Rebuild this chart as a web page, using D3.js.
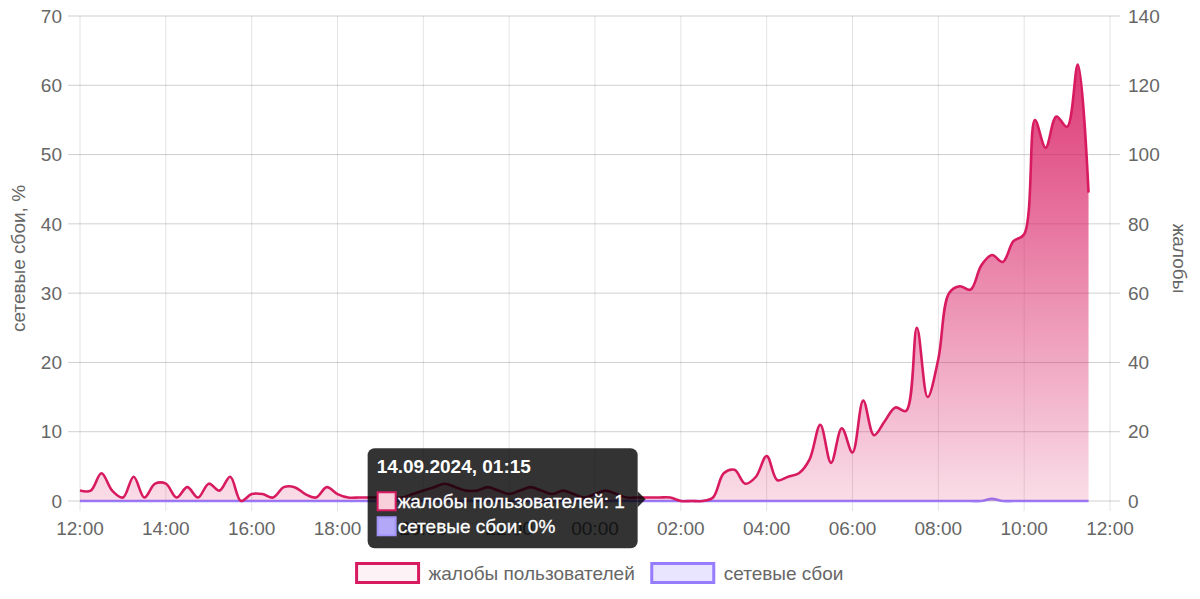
<!DOCTYPE html>
<html>
<head>
<meta charset="utf-8">
<script src="https://cdn.jsdelivr.net/npm/d3@7"></script>
<style>
  html, body { margin: 0; padding: 0; background: #fff; }
  svg { display: block; font-family: "Liberation Sans", Arial, sans-serif; }
  .tick-label { fill: #666; font-size: 19px; }
  .axis-title { fill: #666; font-size: 19px; }
  .legend-label { fill: #666; font-size: 19px; }
</style>
</head>
<body>
<div id="chart"></div>
<script>
// 15-minute samples starting 13.09.2024 12:00
var startTime = new Date(2024, 8, 13, 12, 0);
var stepMinutes = 15;

// жалобы пользователей (right axis)
var complaints = [
  3, 3, 8, 3, 1, 7, 1, 5, 5, 1, 4, 1, 5, 3, 7, 0, 2, 2, 1, 4, 4, 2, 1, 4,
  2, 1, 1, 1, 1, 1, 1, 2, 3, 4, 5, 4, 3, 3, 4, 3, 2, 3, 4, 3, 2, 3, 2, 1,
  2, 3, 2, 1, 1, 1, 1, 1, 0, 0, 0, 1, 8, 9, 5, 7, 13, 6, 7, 8, 12, 22, 11, 21,
  14, 29, 19, 23, 27, 26, 50, 30, 41, 60, 62, 61, 68, 71, 69, 75, 77, 110, 102, 111,
  108, 126, 89
];

// сетевые сбои, % (left axis)
var failures = [
  0, 0, 0, 0, 0, 0, 0, 0, 0, 0, 0, 0, 0, 0, 0, 0, 0, 0, 0, 0, 0, 0, 0, 0,
  0, 0, 0, 0, 0, 0, 0, 0, 0, 0, 0, 0, 0, 0, 0, 0, 0, 0, 0, 0, 0, 0, 0, 0,
  0, 0, 0, 0, 0, 0, 0, 0, 0, 0, 0, 0, 0, 0, 0, 0, 0, 0, 0, 0, 0, 0, 0, 0,
  0, 0, 0, 0, 0, 0, 0, 0, 0, 0, 0, 0, 0, 0.3, 0, 0, 0, 0, 0, 0,
  0, 0, 0
];

var leftTicks = [0, 10, 20, 30, 40, 50, 60, 70];
var rightTicks = [0, 20, 40, 60, 80, 100, 120, 140];
var seriesNames = ['жалобы пользователей', 'сетевые сбои'];
var axisTitles = ['сетевые сбои, %', 'жалобы'];
var tooltipIndex = 53;

var W = 1200, H = 599;
var margin = { top: 16, right: 90, bottom: 98, left: 80 };
var red = '#d81b60';
var purple = 'rgb(150,125,255)';

var times = complaints.map(function (d, i) {
  return d3.timeMinute.offset(startTime, i * stepMinutes);
});

var svg = d3.select('#chart').append('svg')
  .attr('width', W)
  .attr('height', H);

var x = d3.scaleTime()
  .domain([startTime, d3.timeHour.offset(startTime, 24)])
  .range([margin.left, W - margin.right]);
var yLeft = d3.scaleLinear()
  .domain([0, 70])
  .range([H - margin.bottom, margin.top]);
var yRight = d3.scaleLinear()
  .domain([0, 140])
  .range([H - margin.bottom, margin.top]);

var x0 = margin.left, x1 = W - margin.right;
var yTop = margin.top, yBottom = H - margin.bottom;

// gradient for the complaints area
var defs = svg.append('defs');
var grad = defs.append('linearGradient')
  .attr('id', 'redFill')
  .attr('gradientUnits', 'userSpaceOnUse')
  .attr('x1', 0).attr('x2', 0)
  .attr('y1', yTop).attr('y2', yBottom);
grad.append('stop').attr('offset', 0).attr('stop-color', red).attr('stop-opacity', 0.95);
grad.append('stop').attr('offset', 1).attr('stop-color', red).attr('stop-opacity', 0.15);

// grid
var xTicks = x.ticks(d3.timeHour.every(2));
svg.append('g').selectAll('line')
  .data(xTicks)
  .join('line')
    .attr('x1', function (d) { return x(d); })
    .attr('x2', function (d) { return x(d); })
    .attr('y1', yTop)
    .attr('y2', yBottom + 10)
    .attr('stroke', 'rgba(0,0,0,0.11)');

svg.append('g').selectAll('line')
  .data(leftTicks)
  .join('line')
    .attr('x1', x0 - 12)
    .attr('x2', x1 + 10)
    .attr('y1', function (d) { return yLeft(d); })
    .attr('y2', function (d) { return yLeft(d); })
    .attr('stroke', 'rgba(0,0,0,0.19)');

// tick labels
svg.append('g').selectAll('text')
  .data(leftTicks)
  .join('text')
    .attr('class', 'tick-label')
    .attr('x', x0 - 18)
    .attr('y', function (d) { return yLeft(d); })
    .attr('dy', '0.35em')
    .attr('text-anchor', 'end')
    .text(function (d) { return d; });

svg.append('g').selectAll('text')
  .data(rightTicks)
  .join('text')
    .attr('class', 'tick-label')
    .attr('x', x1 + 18)
    .attr('y', function (d) { return yRight(d); })
    .attr('dy', '0.35em')
    .text(function (d) { return d; });

var fmt = d3.timeFormat('%H:%M');
svg.append('g').selectAll('text')
  .data(xTicks)
  .join('text')
    .attr('class', 'tick-label')
    .attr('x', function (d) { return x(d); })
    .attr('y', yBottom + 27)
    .attr('dy', '0.35em')
    .attr('text-anchor', 'middle')
    .text(function (d) { return fmt(d); });

// axis titles
var yMid = (yTop + yBottom) / 2;
svg.append('text')
  .attr('class', 'axis-title')
  .attr('transform', 'translate(18,' + yMid + ') rotate(-90)')
  .attr('dy', '0.35em')
  .attr('text-anchor', 'middle')
  .text(axisTitles[0]);
svg.append('text')
  .attr('class', 'axis-title')
  .attr('transform', 'translate(1180,' + yMid + ') rotate(90)')
  .attr('dy', '0.35em')
  .attr('text-anchor', 'middle')
  .text(axisTitles[1]);

// series
var curve = d3.curveCatmullRom.alpha(0.5);

function drawSeries(values, yScale, fill, stroke) {
  var area = d3.area()
    .x(function (d, i) { return x(times[i]); })
    .y0(yScale(0))
    .y1(function (d) { return yScale(d); })
    .curve(curve);
  var line = d3.line()
    .x(function (d, i) { return x(times[i]); })
    .y(function (d) { return yScale(d); })
    .curve(curve);
  var g = svg.append('g');
  g.append('path').attr('d', area(values)).attr('fill', fill);
  g.append('path').attr('d', line(values))
    .attr('fill', 'none')
    .attr('stroke', stroke)
    .attr('stroke-width', 2.6)
    .attr('stroke-linejoin', 'round');
}

drawSeries(failures, yLeft, 'rgba(150,125,255,0.2)', purple);
drawSeries(complaints, yRight, 'url(#redFill)', red);

// legend
var legendItems = [
  { name: seriesNames[0], stroke: red, fill: 'rgba(216,27,96,0.06)' },
  { name: seriesNames[1], stroke: purple, fill: 'rgba(150,125,255,0.2)' }
];
var boxW = 62, boxH = 19, boxGap = 10, itemGap = 17, legendY = 573;
var legend = svg.append('g');
var items = legend.selectAll('g').data(legendItems).join('g');
items.append('rect')
  .attr('width', boxW).attr('height', boxH)
  .attr('y', legendY - boxH / 2)
  .attr('fill', function (d) { return d.fill; })
  .attr('stroke', function (d) { return d.stroke; })
  .attr('stroke-width', 3);
items.append('text')
  .attr('class', 'legend-label')
  .attr('x', boxW + boxGap)
  .attr('y', legendY)
  .attr('dy', '0.35em')
  .text(function (d) { return d.name; });

var widths = [];
items.each(function () {
  widths.push(boxW + boxGap + d3.select(this).select('text').node().getComputedTextLength());
});
var total = d3.sum(widths) + itemGap * (widths.length - 1);
var lx = W / 2 - total / 2;
items.attr('transform', function (d, i) {
  var pos = lx;
  lx += widths[i] + itemGap;
  return 'translate(' + pos + ',0)';
});

// tooltip at 01:15
var tipX = x(times[tooltipIndex]) - 3;
var tipY = (yRight(complaints[tooltipIndex]) + yLeft(failures[tooltipIndex])) / 2;
var caret = 8, tipW = 270, tipH = 100;
var bx = tipX - caret - tipW, by = tipY - 51;
var tip = svg.append('g');
tip.append('rect')
  .attr('x', bx).attr('y', by)
  .attr('width', tipW).attr('height', tipH)
  .attr('rx', 7)
  .attr('fill', 'rgba(0,0,0,0.8)');
tip.append('path')
  .attr('d', 'M' + (tipX - caret) + ',' + (tipY - caret) + 'L' + tipX + ',' + tipY + 'L' + (tipX - caret) + ',' + (tipY + caret) + 'Z')
  .attr('fill', 'rgba(0,0,0,0.8)');
tip.append('text')
  .attr('x', bx + 9).attr('y', by + 25)
  .attr('fill', '#fff')
  .attr('font-size', 19)
  .attr('font-weight', 'bold')
  .text(d3.timeFormat('%d.%m.%Y, %H:%M')(times[tooltipIndex]));

var tipRows = [
  { text: seriesNames[0] + ': ' + complaints[tooltipIndex], fill: '#f7d0dc', stroke: red },
  { text: seriesNames[1] + ': ' + failures[tooltipIndex] + '%', fill: '#b3a8f7', stroke: '#a394f7' }
];
tipRows.forEach(function (r, i) {
  var ry = by + 44 + i * 25;
  tip.append('rect')
    .attr('x', bx + 10).attr('y', ry)
    .attr('width', 18).attr('height', 18)
    .attr('fill', r.fill)
    .attr('stroke', r.stroke)
    .attr('stroke-width', 2);
  tip.append('text')
    .attr('x', bx + 30).attr('y', ry + 9)
    .attr('dy', '0.35em')
    .attr('fill', '#fff')
    .attr('font-size', 19)
    .attr('stroke', '#fff')
    .attr('stroke-width', 0.3)
    .text(r.text);
});
</script>
</body>
</html>
